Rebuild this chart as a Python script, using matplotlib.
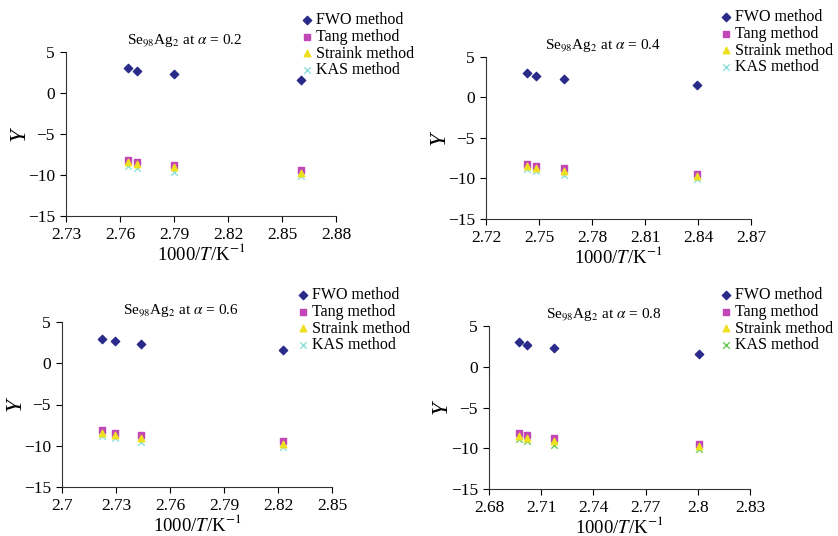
import matplotlib.pyplot as plt

plt.rcParams['font.family'] = 'Liberation Serif'
plt.rcParams['mathtext.fontset'] = 'stix'

alphas = ['0.2', '0.4', '0.6', '0.8']

# 1000/T values for each panel
x_a02 = [2.7645, 2.7693, 2.7900, 2.8605]
x_a04 = [2.7432, 2.7482, 2.7640, 2.8392]
x_a06 = [2.7222, 2.7297, 2.7437, 2.8225]
x_a08 = [2.6975, 2.7020, 2.7172, 2.8008]

fwo_y = [3.0, 2.66, 2.31, 1.6]
tang_y = [-8.15, -8.42, -8.75, -9.45]
strain_y = [-8.45, -8.7, -9.05, -9.75]
kas_y = [-8.85, -9.1, -9.6, -10.1]

xlims = [(2.73, 2.88), (2.72, 2.87), (2.70, 2.85), (2.68, 2.83)]
xticklabels = [
    ['2.73', '2.76', '2.79', '2.82', '2.85', '2.88'],
    ['2.72', '2.75', '2.78', '2.81', '2.84', '2.87'],
    ['2.7', '2.73', '2.76', '2.79', '2.82', '2.85'],
    ['2.68', '2.71', '2.74', '2.77', '2.8', '2.83'],
]
xs = [x_a02, x_a04, x_a06, x_a08]

W, H = 838, 536
# axes boxes in pixels: left, right, top, bottom
boxes = [(66, 336, 52, 216), (486, 751, 57, 219),
         (62, 332, 322, 487), (489, 750, 326, 489)]
legend_pos = [(289, 4), (708, 1), (285, 279), (708, 279)]
ylabel_px = [30, 450, 26, 452]
kas_colors = ['#8ee0dc', '#8ee0dc', '#8ee0dc', '#66cc55']

fig = plt.figure(figsize=(W / 100, H / 100), dpi=100)

for i in range(4):
    l, r, t, b = boxes[i]
    ax = fig.add_axes([l / W, 1 - b / H, (r - l) / W, (b - t) / H])
    x = xs[i]
    ax.scatter(x, fwo_y, marker='D', s=18, color='#2a2a8a', label='FWO method', zorder=3)
    ax.scatter(x, tang_y, marker='s', s=22, color='#c146b8', label='Tang method', zorder=3)
    ax.scatter(x, strain_y, marker='^', s=22, color='#eee020', label='Straink method', zorder=4)
    ax.scatter(x, kas_y, marker='x', s=22, color=kas_colors[i], linewidths=1,
               label='KAS method', zorder=2)
    ax.set_xlim(*xlims[i])
    ax.set_ylim(-15, 5)
    lo = xlims[i][0]
    ax.set_xticks([lo + 0.03 * k for k in range(6)])
    ax.set_xticklabels(xticklabels[i])
    ax.set_yticks([-15, -10, -5, 0, 5])
    ax.set_yticklabels(['\u221215', '\u221210', '\u22125', '0', '5'])
    ax.spines['top'].set_visible(False)
    ax.spines['right'].set_visible(False)
    for s in ['left', 'bottom']:
        ax.spines[s].set_linewidth(0.8)
        ax.spines[s].set_color('#333333')
    ax.tick_params(direction='out', length=4, width=0.8, labelsize=12.5, pad=4)
    ax.set_xlabel(r'1000/$T$/K$^{-1}$', fontsize=13.5, labelpad=0)
    ax.set_ylabel('Y', fontsize=17, fontstyle='italic')
    ax.yaxis.set_label_coords((ylabel_px[i] - l) / (r - l), 0.5)
    ax.set_title(r'Se$_{98}$Ag$_2$ at $\alpha$ = ' + alphas[i], fontsize=11,
                 x=0.44, y=1.0)
    lx, ly = legend_pos[i]
    fig.legend(handles=ax.collections, loc='upper left',
               bbox_to_anchor=(lx / W, 1 - ly / H), frameon=False,
               fontsize=11.5, handletextpad=0.0, labelspacing=0.05,
               borderpad=0, handlelength=1.2, scatterpoints=1)

fig.savefig('out.png', dpi=100)
